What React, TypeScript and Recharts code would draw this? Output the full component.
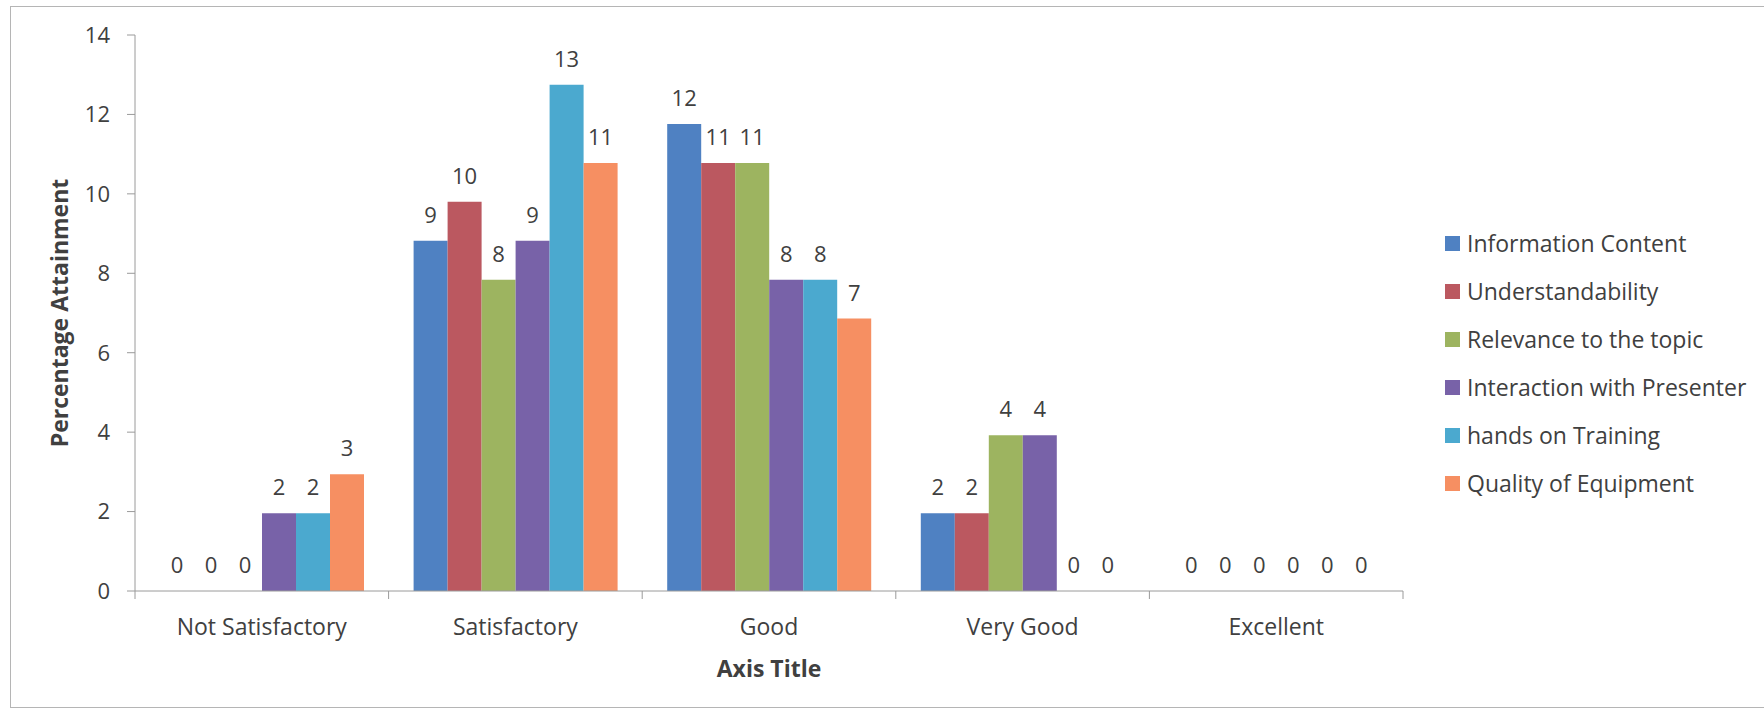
import { BarChart, Bar, XAxis, YAxis, Legend, LabelList } from 'recharts'

const categories = ['Not Satisfactory', 'Satisfactory', 'Good', 'Very Good', 'Excellent']

const informationContent = [0, 8.82, 11.76, 1.96, 0]
const understandability = [0, 9.8, 10.78, 1.96, 0]
const relevanceToTopic = [0, 7.84, 10.78, 3.92, 0]
const interactionWithPresenter = [1.96, 8.82, 7.84, 3.92, 0]
const handsOnTraining = [1.96, 12.75, 7.84, 0, 0]
const qualityOfEquipment = [2.94, 10.78, 6.86, 0, 0]

const yTicks = [0, 2, 4, 6, 8, 10, 12, 14]

const series = [
  { key: 'info', name: 'Information Content', values: informationContent, color: '#4f81c2' },
  { key: 'under', name: 'Understandability', values: understandability, color: '#bb5860' },
  { key: 'relev', name: 'Relevance to the topic', values: relevanceToTopic, color: '#9db460' },
  { key: 'inter', name: 'Interaction with Presenter', values: interactionWithPresenter, color: '#7862a8' },
  { key: 'hands', name: 'hands on Training', values: handsOnTraining, color: '#4ba9cf' },
  { key: 'quality', name: 'Quality of Equipment', values: qualityOfEquipment, color: '#f68f62' },
]

const data = categories.map((name, i) => {
  const row: Record<string, string | number> = { name }
  series.forEach((s) => {
    row[s.key] = s.values[i]
  })
  return row
})

const textColor = '#404040'
const axisColor = '#9a9a9a'
const fontSize = 23
const numSize = 22

function CategoryTick(props: any) {
  const { x, y, payload, index } = props
  const half = payload?.offset ?? 126.8
  return (
    <g>
      <line x1={x - half} x2={x - half} y1={y} y2={y + 8} stroke={axisColor} />
      {index === categories.length - 1 && (
        <line x1={x + half} x2={x + half} y1={y} y2={y + 8} stroke={axisColor} />
      )}
      <text x={x} y={y + 44} textAnchor="middle" fill={textColor} fontSize={fontSize}>
        {payload.value}
      </text>
    </g>
  )
}

// value labels, zero bars included
function ValueLabel(props: any) {
  const { x, y, width, value } = props
  if (value == null) return null
  return (
    <text x={x + width / 2} y={y - 18} textAnchor="middle" fill={textColor} fontSize={numSize}>
      {Math.round(Number(value))}
    </text>
  )
}

// legend keeps the series order (recharts sorts by name otherwise)
function renderLegend() {
  return (
    <div style={{ display: 'flex', flexDirection: 'column' }}>
      {series.map((s) => (
        <div key={s.key} style={{ display: 'flex', alignItems: 'center', height: 48 }}>
          <span style={{ width: 15, height: 15, backgroundColor: s.color, marginRight: 7, flexShrink: 0 }} />
          <span style={{ fontSize, color: textColor, whiteSpace: 'nowrap' }}>{s.name}</span>
        </div>
      ))}
    </div>
  )
}

export default function App() {
  return (
    <div
      style={{
        position: 'absolute',
        left: 0,
        top: 0,
        width: 1764,
        height: 712,
        background: '#fff',
        fontFamily: '"Open Sans", sans-serif',
      }}
    >
      <div
        style={{
          position: 'absolute',
          left: 10,
          top: 6,
          width: 1754,
          height: 702,
          borderLeft: '1px solid #b5b5b5',
          borderTop: '1px solid #b5b5b5',
          borderBottom: '1px solid #b5b5b5',
          boxSizing: 'border-box',
        }}
      />
      <BarChart
        width={1764}
        height={712}
        data={data}
        margin={{ top: 35, right: 361, bottom: 0, left: 0 }}
        barCategoryGap={25}
        barGap={0}
      >
        <XAxis
          dataKey="name"
          height={121}
          stroke={axisColor}
          tickLine={false}
          tickSize={0}
          tickMargin={0}
          tick={<CategoryTick />}
          interval={0}
          label={{
            value: 'Axis Title',
            position: 'insideBottom',
            offset: 35,
            fill: textColor,
            fontSize,
            fontWeight: 700,
          }}
        />
        <YAxis
          width={135}
          domain={[0, 14]}
          ticks={yTicks}
          interval={0}
          stroke={axisColor}
          tickSize={8}
          tickMargin={17}
          tick={{ fill: textColor, fontSize: numSize }}
          label={{
            value: 'Percentage Attainment',
            angle: -90,
            position: 'insideLeft',
            offset: 60,
            fill: textColor,
            fontSize,
            fontWeight: 700,
            style: { textAnchor: 'middle' },
          }}
        />
        <Legend
          layout="vertical"
          align="center"
          verticalAlign="middle"
          content={renderLegend}
          wrapperStyle={{ left: 1445, top: 219, width: 'auto', height: 'auto' }}
        />
        {series.map((s) => (
          <Bar
            key={s.key}
            dataKey={s.key}
            name={s.name}
            fill={s.color}
            minPointSize={0.01}
            isAnimationActive={false}
          >
            <LabelList dataKey={s.key} content={<ValueLabel />} />
          </Bar>
        ))}
      </BarChart>
    </div>
  )
}
